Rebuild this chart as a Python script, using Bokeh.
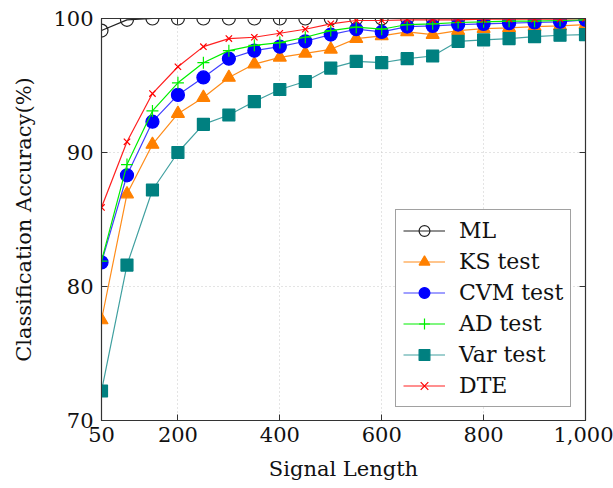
from bokeh.plotting import figure
from bokeh.models import Range1d, FixedTicker, NumeralTickFormatter, LinearAxis
from bokeh.embed import file_html
from bokeh.resources import INLINE

signal_length = [50, 100, 150, 200, 250, 300, 350, 400, 450, 500,
                 550, 600, 650, 700, 750, 800, 850, 900, 950, 1000]

ml = [99.1, 99.9, 100.0, 100.0, 100.0, 100.0, 100.0, 100.0, 100.0, 100.0,
      100.0, 100.0, 100.0, 100.0, 100.0, 100.0, 100.0, 100.0, 100.0, 100.0]
ks = [77.5, 86.9, 90.6, 92.9, 94.1, 95.6, 96.6, 97.1, 97.4, 97.7,
      98.5, 98.7, 99.0, 98.8, 99.1, 99.25, 99.3, 99.4, 99.45, 99.55]
cvm = [81.8, 88.3, 92.3, 94.3, 95.6, 97.0, 97.6, 97.9, 98.3, 98.8,
       99.2, 99.0, 99.4, 99.45, 99.55, 99.6, 99.65, 99.7, 99.75, 99.9]
ad = [81.9, 89.1, 93.1, 95.2, 96.7, 97.6, 98.0, 98.2, 98.6, 99.1,
      99.35, 99.2, 99.55, 99.6, 99.7, 99.75, 99.8, 99.8, 99.85, 99.9]
var = [72.2, 81.6, 87.2, 90.0, 92.1, 92.8, 93.8, 94.7, 95.3, 96.3,
       96.8, 96.7, 97.0, 97.2, 98.3, 98.4, 98.5, 98.65, 98.75, 98.8]
dte = [85.9, 90.8, 94.4, 96.4, 97.9, 98.5, 98.6, 98.9, 99.2, 99.6,
       99.85, 99.85, 99.9, 99.9, 99.9, 99.95, 99.95, 99.95, 99.95, 100.0]

x_ticks = [50, 200, 400, 600, 800, 1000]
y_ticks = [70, 80, 90, 100]

FONT = "DejaVu Serif"
FS = "21px"

p = figure(width=613, height=488, output_backend="svg", toolbar_location=None,
           x_range=Range1d(50, 1000), y_range=Range1d(70, 100),
           min_border_left=101, min_border_right=28, min_border_top=18,
           min_border_bottom=68)

p.outline_line_color = "#333333"
p.outline_line_width = 1.2

for ax in p.xaxis:
    ax.ticker = FixedTicker(ticks=x_ticks)
    ax.formatter = NumeralTickFormatter(format="0,0")
    ax.axis_label = "Signal Length"
    ax.major_label_standoff = 6
    ax.axis_label_standoff = 12
for ax in p.yaxis:
    ax.ticker = FixedTicker(ticks=y_ticks)
    ax.axis_label = "Classification Accuracy(%)"
    ax.major_label_standoff = 8
    ax.axis_label_standoff = 14

for ax in list(p.xaxis) + list(p.yaxis):
    ax.major_label_text_font = FONT
    ax.major_label_text_font_size = FS
    ax.major_label_text_color = "#111111"
    ax.axis_label_text_font = FONT
    ax.axis_label_text_font_size = FS
    ax.axis_label_text_font_style = "normal"
    ax.axis_label_text_color = "#111111"
    ax.major_tick_in = 6
    ax.major_tick_out = 0
    ax.minor_tick_line_color = None
    ax.axis_line_color = "#333333"
    ax.major_tick_line_color = "#333333"

right = LinearAxis(ticker=FixedTicker(ticks=y_ticks),
                   major_label_overrides={t: "" for t in y_ticks},
                   major_tick_in=6, major_tick_out=0, minor_tick_line_color=None,
                   major_label_standoff=0, axis_line_color="#333333",
                   major_tick_line_color="#333333")
top = LinearAxis(ticker=FixedTicker(ticks=x_ticks),
                 major_label_overrides={t: "" for t in x_ticks},
                 major_tick_in=6, major_tick_out=0, minor_tick_line_color=None,
                 major_label_standoff=0, axis_line_color="#333333",
                 major_tick_line_color="#333333")
p.add_layout(right, "right")
p.add_layout(top, "above")

p.xgrid.ticker = FixedTicker(ticks=x_ticks)
p.ygrid.ticker = FixedTicker(ticks=y_ticks)
for g in list(p.xgrid) + list(p.ygrid):
    g.grid_line_color = "#c8c8c8"
    g.grid_line_dash = "1 3"
    g.grid_line_width = 1

series = [
    ("ML", ml, "#222222", "#222222", "circle", 13, None),
    ("KS test", ks, "#ff8000", "#ff8c1a", "triangle", 13, "#ff8000"),
    ("CVM test", cvm, "#0000ff", "#4040ff", "circle", 13, "#0000ff"),
    ("AD test", ad, "#00ee00", "#00ee00", "cross", 12, None),
    ("Var test", var, "#008080", "#40a0a0", "square", 12, "#008080"),
    ("DTE", dte, "#ff0000", "#ff2020", "x", 9, None),
]

for name, ys, color, lc, marker, size, fill in series:
    p.line(signal_length, ys, line_color=lc, line_width=1.2, legend_label=name)
    p.scatter(signal_length, ys, marker=marker, size=size, line_color=color,
              fill_color=fill, line_width=1.2, legend_label=name)

lg = p.legend[0]
lg.location = (294, 13)
lg.padding = 7
lg.spacing = 4
lg.label_height = 27
lg.glyph_height = 27
lg.glyph_width = 42
lg.label_standoff = 14
lg.label_width = 104
lg.label_text_font = FONT
lg.label_text_font_size = "22px"
lg.label_text_color = "#111111"
lg.border_line_color = "#444444"
lg.border_line_width = 1.2
lg.background_fill_alpha = 1.0

open("out.html", "w").write(file_html(p, INLINE))
